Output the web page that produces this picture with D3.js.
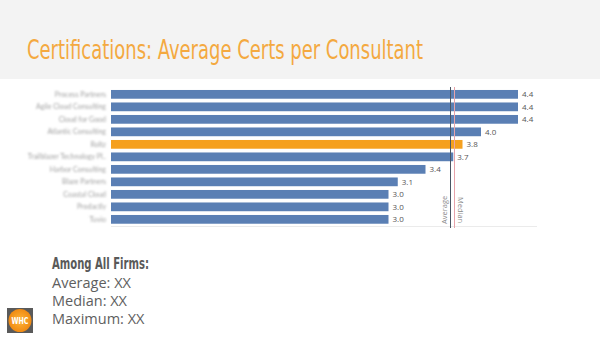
<!DOCTYPE html>
<html>
<head>
<meta charset="utf-8">
<script src="https://cdn.jsdelivr.net/npm/d3@7"></script>
<style>
  html, body { margin: 0; padding: 0; background: #ffffff; }
  svg { display: block; }
</style>
</head>
<body>
<script>
// Firms and their average certifications per consultant
const categories = [
  "Process Partners", "Agile Cloud Consulting", "Cloud for Good", "Atlantic Consulting",
  "Roltz", "Trailblazer Technology Pl..", "Harbor Consulting", "Blaze Partners",
  "Coastal Cloud", "Prodactly", "Tuvio"
];
const values = [4.4, 4.4, 4.4, 4.0, 3.8, 3.7, 3.4, 3.1, 3.0, 3.0, 3.0];
const highlighted = ["Roltz"];

// Reference lines across all firms
const refNames = ["Average", "Median"];
const refValues = [3.66, 3.71];

// Summary block
const summaryTitle = "Among All Firms:";
const summaryLines = ["Average: XX", "Median: XX", "Maximum: XX"];

const W = 600, H = 338;
const svg = d3.select("body").append("svg").attr("width", W).attr("height", H);

const defs = svg.append("defs");
defs.append("filter").attr("id", "soft")
  .attr("x", "-10%").attr("y", "-50%").attr("width", "120%").attr("height", "200%")
  .append("feGaussianBlur").attr("stdDeviation", 1.1);
const rg = defs.append("radialGradient").attr("id", "badge");
rg.append("stop").attr("offset", "0%").attr("stop-color", "#ffb63a");
rg.append("stop").attr("offset", "100%").attr("stop-color", "#f08a12");

// Header band and title
svg.append("rect").attr("x", 0).attr("y", 0).attr("width", W).attr("height", 79).attr("fill", "#f3f3f3");
svg.append("text")
  .attr("x", 27).attr("y", 59)
  .attr("font-family", "'DejaVu Sans Condensed', 'DejaVu Sans', sans-serif")
  .attr("font-size", 26)
  .attr("textLength", 396).attr("lengthAdjust", "spacingAndGlyphs")
  .attr("fill", "#f4a940")
  .text("Certifications: Average Certs per Consultant");

// Scales
const x = d3.scaleLinear().domain([0, 4.4]).range([111, 518]);
const y = d3.scaleBand().domain(categories).range([88.1, 225.6]).paddingInner(0.3).paddingOuter(0.15);

const rows = categories.map((c, i) => ({ name: c, value: values[i] }));

// Baseline under the bars
svg.append("line")
  .attr("x1", x(0)).attr("x2", 537).attr("y1", 226.5).attr("y2", 226.5)
  .attr("stroke", "#ebebeb").attr("stroke-width", 1);

// Bars
svg.append("g").selectAll("rect").data(rows).join("rect")
  .attr("x", x(0))
  .attr("y", d => y(d.name))
  .attr("width", d => x(d.value) - x(0))
  .attr("height", y.bandwidth())
  .attr("fill", d => highlighted.includes(d.name) ? "#f5a01f" : "#5a7fb4");

// Category labels (soft)
svg.append("g").attr("filter", "url(#soft)").selectAll("text").data(rows).join("text")
  .attr("x", 106)
  .attr("y", d => y(d.name) + y.bandwidth() / 2)
  .attr("dy", "0.35em")
  .attr("text-anchor", "end")
  .attr("font-family", "Lato, sans-serif")
  .attr("font-size", 7)
  .attr("fill", "#a0a0a0")
  .text(d => d.name);

// Value labels
svg.append("g").selectAll("text").data(rows).join("text")
  .attr("x", d => x(d.value) + 4)
  .attr("y", d => y(d.name) + y.bandwidth() / 2)
  .attr("dy", "0.35em")
  .attr("font-family", "'Open Sans', sans-serif")
  .attr("font-size", 8)
  .attr("fill", "#555555")
  .text(d => d3.format(".1f")(d.value));

// Reference lines
const refColors = ["#4b5563", "#e7a3aa"];
refNames.forEach((name, i) => {
  const xv = Math.round(x(refValues[i])) + 0.5;
  svg.append("line")
    .attr("x1", xv).attr("x2", xv).attr("y1", 87).attr("y2", 228)
    .attr("stroke", refColors[i]).attr("stroke-width", 1);
});
// Reference labels
const avgX = Math.round(x(refValues[0])) - 3;
svg.append("text")
  .attr("transform", `translate(${avgX},224) rotate(-90)`)
  .attr("font-family", "'Open Sans', sans-serif").attr("font-size", 7.5)
  .attr("fill", "#8c8c8c")
  .text(refNames[0]);
const medX = Math.round(x(refValues[1])) + 4;
svg.append("text")
  .attr("transform", `translate(${medX},197) rotate(90)`)
  .attr("font-family", "'Open Sans', sans-serif").attr("font-size", 7.5)
  .attr("fill", "#8c8c8c")
  .text(refNames[1]);

// Summary block
svg.append("text")
  .attr("x", 52).attr("y", 269)
  .attr("font-family", "'DejaVu Sans Condensed', 'DejaVu Sans', sans-serif")
  .attr("font-weight", "bold").attr("font-size", 16)
  .attr("textLength", 97).attr("lengthAdjust", "spacingAndGlyphs")
  .attr("fill", "#595959")
  .text(summaryTitle);
svg.append("g").selectAll("text").data(summaryLines).join("text")
  .attr("x", 52)
  .attr("y", (d, i) => 288 + i * 18)
  .attr("font-family", "'Open Sans', sans-serif")
  .attr("font-size", 14.5)
  .attr("fill", "#5e5e5e")
  .text(d => d);

// Badge
svg.append("rect").attr("x", 7).attr("y", 308).attr("width", 26).attr("height", 25).attr("fill", "#5a5a5a");
svg.append("circle").attr("cx", 20).attr("cy", 320.5).attr("r", 11.5).attr("fill", "url(#badge)");
svg.append("text")
  .attr("x", 20).attr("y", 324)
  .attr("text-anchor", "middle")
  .attr("font-family", "'DejaVu Sans Condensed', sans-serif")
  .attr("font-weight", "bold").attr("font-size", 9)
  .attr("textLength", 17).attr("lengthAdjust", "spacingAndGlyphs")
  .attr("fill", "#ffffff")
  .text("WHC");
</script>
</body>
</html>
